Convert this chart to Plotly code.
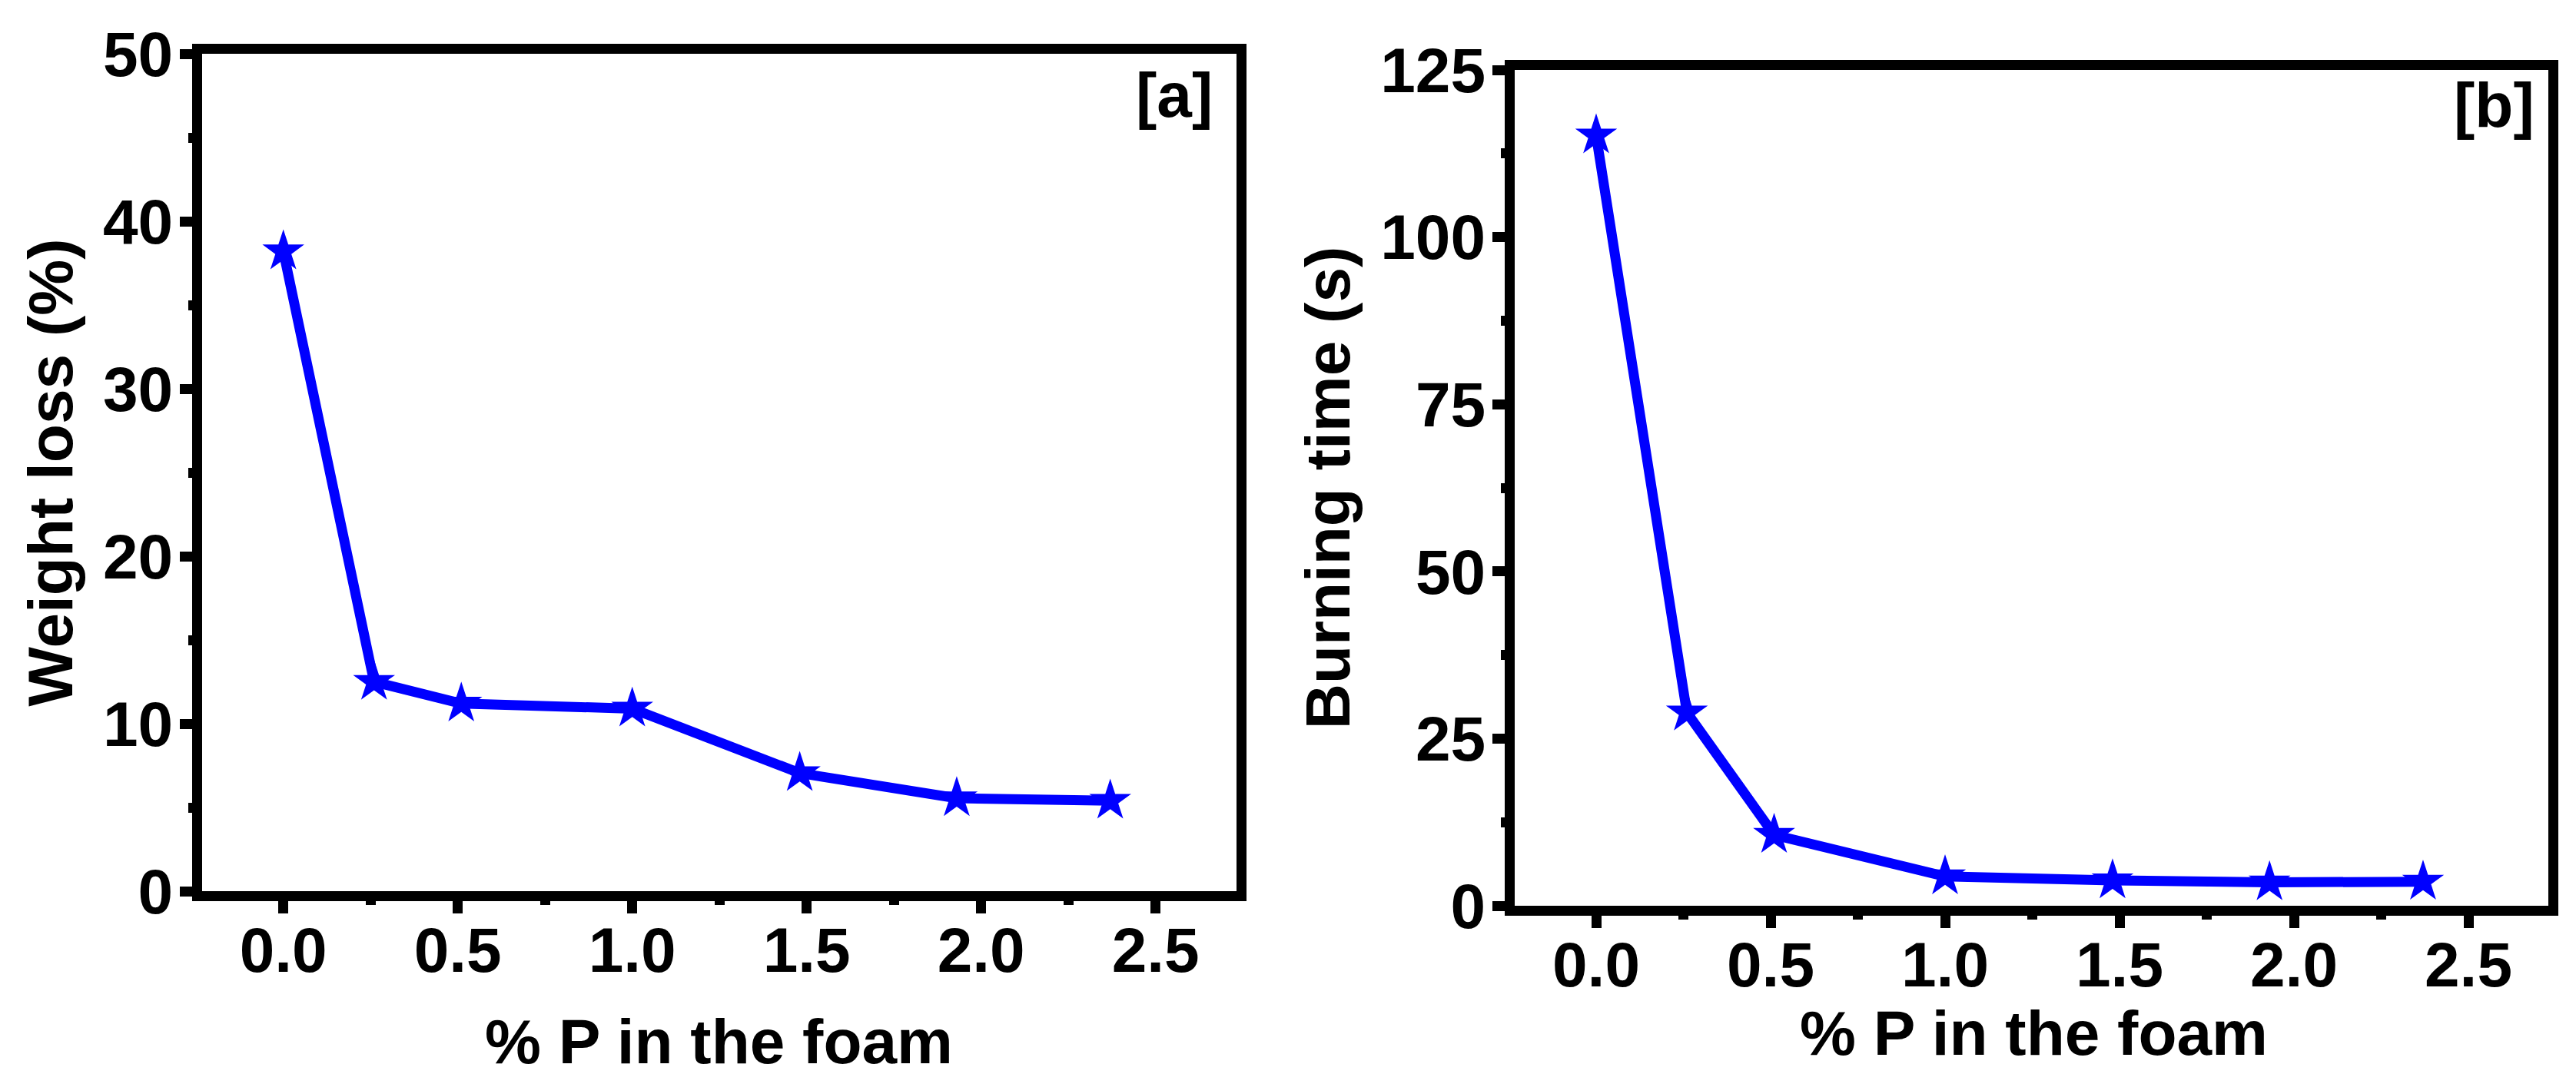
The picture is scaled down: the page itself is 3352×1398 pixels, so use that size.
import plotly.graph_objects as go

# ---- data ----
p_content = [0.0, 0.26, 0.51, 1.0, 1.48, 1.93, 2.37]
weight_loss = [38.2, 12.5, 11.2, 10.9, 7.05, 5.55, 5.4]
burning_time = [115.2, 28.9, 10.6, 4.4, 3.8, 3.5, 3.6]

x_ticks = [0.0, 0.5, 1.0, 1.5, 2.0, 2.5]
x_tick_labels = ["0.0", "0.5", "1.0", "1.5", "2.0", "2.5"]
wl_ticks = [0, 10, 20, 30, 40, 50]
bt_ticks = [0, 25, 50, 75, 100, 125]

x_title = "% P in the foam"
wl_title = "Weight loss (%)"
bt_title = "Burning time (s)"
panel_labels = ["[a]", "[b]"]

# ---- layout constants ----
W, H = 3352, 1398
FONT = "Liberation Sans, Arial, sans-serif"
BLUE = "#0000FF"
LW = 13


def px_x(a, b):
    return [a / W, b / W]


def px_y(bottom, top):
    return [1 - bottom / H, 1 - top / H]


tick_font = dict(family=FONT, size=82, color="black", weight="bold")
title_font = dict(family=FONT, size=82, color="black", weight="bold")


def axis_common():
    return dict(
        showline=True, linewidth=LW, linecolor="black", mirror=True,
        ticks="outside", ticklen=16, tickwidth=LW, tickcolor="black",
        showgrid=False, zeroline=False, tickfont=tick_font,
        automargin=False,
    )


def minor(dt):
    return dict(ticks="outside", ticklen=5, tickwidth=LW, tickcolor="black", dtick=dt, tick0=0)


fig = go.Figure()
fig.add_trace(go.Scatter(
    x=p_content, y=weight_loss, mode="lines+markers",
    line=dict(color=BLUE, width=LW),
    marker=dict(symbol="star", size=41, color=BLUE),
    xaxis="x", yaxis="y", showlegend=False,
))
fig.add_trace(go.Scatter(
    x=p_content, y=burning_time, mode="lines+markers",
    line=dict(color=BLUE, width=LW),
    marker=dict(symbol="star", size=41, color=BLUE),
    xaxis="x2", yaxis="y2", showlegend=False,
))

xa_dom = px_x(254.5, 1600.5)
xb_dom = px_x(1962.5, 3307.5)

xa = axis_common()
xa.update(domain=xa_dom, range=[(254.5 - 360.7) / 454, (1600.5 - 360.7) / 454],
          anchor="y", tickvals=x_ticks, ticktext=x_tick_labels, minor=minor(0.25),
          ticklabelstandoff=-22)
ya = axis_common()
ya.update(domain=px_y(1152, 62), range=[0, 50], anchor="x", tickvals=wl_ticks, minor=minor(5),
          ticklabelstandoff=-8,
          title=dict(text=wl_title, font=title_font, standoff=18))

xb = axis_common()
xb.update(domain=xb_dom, range=[(1962.5 - 2069) / 454, (3307.5 - 2069) / 454],
          anchor="y2", tickvals=x_ticks, ticktext=x_tick_labels, minor=minor(0.25),
          ticklabelstandoff=-22)
yb = axis_common()
yb.update(domain=px_y(1171, 83), range=[0, 125], anchor="x2", tickvals=bt_ticks, minor=minor(12.5),
          ticklabelstandoff=-8,
          title=dict(text=bt_title, font=title_font, standoff=18))

fig.update_layout(
    width=W, height=H,
    margin=dict(l=0, r=0, t=0, b=0),
    paper_bgcolor="white", plot_bgcolor="white",
    xaxis=xa, yaxis=ya, xaxis2=xb, yaxis2=yb,
    showlegend=False,
    annotations=[
        # x-axis titles
        dict(text=x_title, xref="paper", yref="paper", x=sum(xa_dom) / 2, y=1 - 1395 / H,
             xanchor="center", yanchor="bottom", showarrow=False, font=title_font),
        dict(text=x_title, xref="paper", yref="paper", x=sum(xb_dom) / 2 + 4 / W, y=1 - 1384 / H,
             xanchor="center", yanchor="bottom", showarrow=False, font=title_font),
        # panel labels
        dict(text=panel_labels[0], xref="paper", yref="paper", x=1572 / W, y=1 - 68 / H,
             xanchor="right", yanchor="top", showarrow=False, font=tick_font),
        dict(text=panel_labels[1], xref="paper", yref="paper", x=3292 / W, y=1 - 81 / H,
             xanchor="right", yanchor="top", showarrow=False, font=tick_font),
    ],
)

fig.write_html("out.html")
